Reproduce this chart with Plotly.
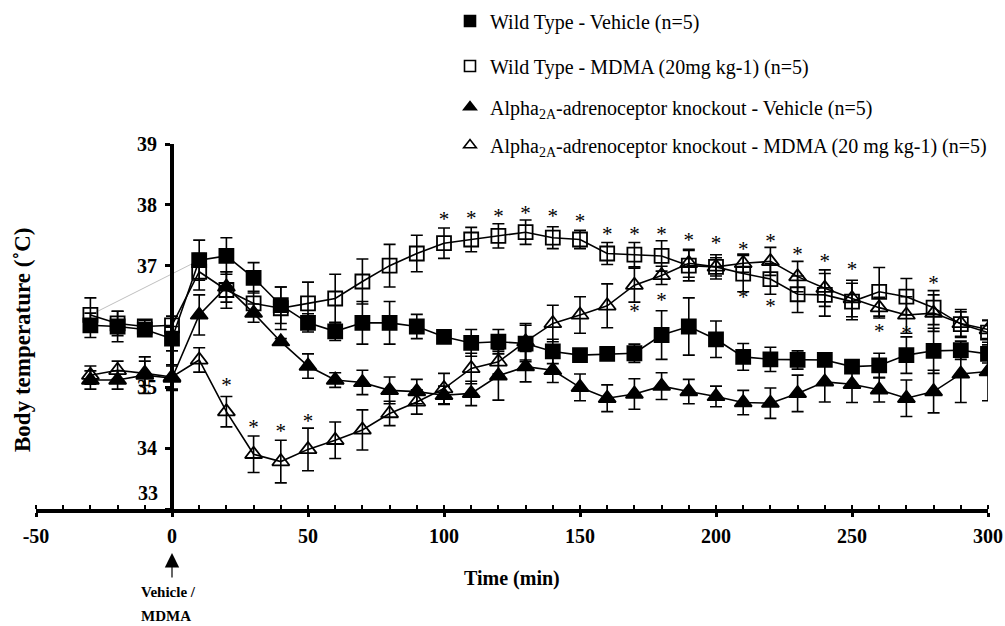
import plotly.graph_objects as go

# ---- data ----
time_min = [-30, -20, -10, 0, 10, 20, 30, 40, 50, 60, 70, 80, 90, 100, 110, 120, 130,
            140, 150, 160, 170, 180, 190, 200, 210, 220, 230, 240, 250, 260, 270, 280, 290, 300]

wt_vehicle = [36.02, 36.00, 35.95, 35.80, 37.09, 37.16, 36.80, 36.35, 36.06, 35.92, 36.06, 36.06,
              36.00, 35.83, 35.73, 35.75, 35.72, 35.59, 35.53, 35.55, 35.56, 35.86, 36.00, 35.79,
              35.50, 35.46, 35.45, 35.45, 35.34, 35.36, 35.53, 35.60, 35.61, 35.55]
wt_vehicle_sem = [0.2, 0.25, 0.1, 0.2, 0.33, 0.3, 0.25, 0.3, 0.15, 0.15, 0.35, 0.35, 0.2, 0.05,
                  0.22, 0.2, 0.3, 0.2, 0.1, 0.05, 0.15, 0.4, 0.47, 0.3, 0.22, 0.2, 0.15, 0.07,
                  0.07, 0.2, 0.3, 0.37, 0.15, 0.15]

wt_mdma = [36.19, 36.05, 36.00, 36.02, 36.90, 36.60, 36.38, 36.30, 36.38, 36.46, 36.74, 37.00,
           37.20, 37.37, 37.43, 37.49, 37.55, 37.46, 37.43, 37.20, 37.18, 37.16, 37.00, 36.98,
           36.87, 36.78, 36.53, 36.52, 36.41, 36.57, 36.49, 36.31, 36.04, 35.90]
wt_mdma_sem = [0.28, 0.2, 0.1, 0.15, 0.3, 0.3, 0.2, 0.35, 0.35, 0.4, 0.37, 0.35, 0.3, 0.25, 0.2,
               0.2, 0.2, 0.18, 0.15, 0.18, 0.2, 0.25, 0.25, 0.2, 0.3, 0.25, 0.3, 0.35, 0.3, 0.4,
               0.3, 0.28, 0.2, 0.2]

ko_vehicle = [35.12, 35.12, 35.20, 35.15, 36.19, 36.65, 36.22, 35.75, 35.35, 35.12, 35.08, 34.95,
              34.93, 34.87, 34.90, 35.19, 35.34, 35.28, 35.00, 34.82, 34.89, 35.02, 34.93, 34.85,
              34.75, 34.74, 34.90, 35.09, 35.05, 34.96, 34.82, 34.93, 35.22, 35.26]
ko_vehicle_sem = [0.15, 0.15, 0.3, 0.2, 0.33, 0.25, 0.15, 0.05, 0.2, 0.12, 0.2, 0.22, 0.2, 0.15,
                  0.2, 0.4, 0.25, 0.2, 0.22, 0.22, 0.25, 0.22, 0.2, 0.17, 0.2, 0.25, 0.3, 0.33,
                  0.3, 0.2, 0.3, 0.35, 0.47, 0.48]

ko_mdma = [35.20, 35.28, 35.23, 35.17, 35.45, 34.60, 33.90, 33.78, 33.98, 34.13, 34.30, 34.57,
           34.76, 34.98, 35.31, 35.42, 35.75, 36.05, 36.19, 36.34, 36.68, 36.84, 37.04, 36.98,
           37.04, 37.07, 36.82, 36.63, 36.46, 36.31, 36.19, 36.22, 36.05, 35.95]
ko_mdma_sem = [0.15, 0.15, 0.2, 0.2, 0.2, 0.25, 0.3, 0.35, 0.35, 0.3, 0.33, 0.2, 0.2, 0.25, 0.25,
               0.2, 0.3, 0.3, 0.3, 0.36, 0.28, 0.15, 0.23, 0.15, 0.15, 0.23, 0.25, 0.3, 0.3, 0.17,
               0.3, 0.3, 0.23, 0.15]

star_time = [20, 30, 40, 50, 100, 110, 120, 130, 140, 150, 160, 170, 180, 190, 200, 210, 220,
             230, 240, 250, 280, 170, 180, 210, 220, 260, 270]
star_temp = [35.01, 34.32, 34.26, 34.42, 37.74, 37.76, 37.78, 37.83, 37.78, 37.71, 37.50, 37.50,
             37.50, 37.40, 37.34, 37.25, 37.37, 37.17, 37.04, 36.92, 36.69, 36.23, 36.40, 36.45,
             36.31, 35.89, 35.87]

legend_names = [
    "Wild Type - Vehicle (n=5)",
    "Wild Type - MDMA (20mg kg-1) (n=5)",
    "Alpha<sub>2A</sub>-adrenoceptor knockout - Vehicle (n=5)",
    "Alpha<sub>2A</sub>-adrenoceptor knockout - MDMA (20 mg kg-1) (n=5)",
]
x_ticks = [-50, 0, 50, 100, 150, 200, 250, 300]
y_ticks = [33, 34, 35, 36, 37, 38, 39]
y_ticktext = ["", "34", "35", "", "37", "38", "39"]

SERIF = "Liberation Serif"
BLACK = "#000000"

fig = go.Figure()

# stray grey connector visible in the original figure
fig.add_trace(go.Scatter(x=[time_min[0], time_min[4]], y=[wt_mdma[0], wt_vehicle[4]],
                         mode="lines", line=dict(color="#c0c0c0", width=1),
                         showlegend=False, hoverinfo="skip"))

series = [
    (wt_mdma, wt_mdma_sem, "square-open", 1),
    (ko_mdma, ko_mdma_sem, "triangle-up-open", 3),
    (ko_vehicle, ko_vehicle_sem, "triangle-up", 2),
    (wt_vehicle, wt_vehicle_sem, "square", 0),
]
for vals, sem, sym, idx in series:
    fig.add_trace(go.Scatter(
        x=time_min, y=vals, mode="lines+markers",
        line=dict(color=BLACK, width=1.6),
        marker=dict(symbol=sym, size=14 if "square" in sym else 15, color=BLACK,
                    line=dict(color=BLACK, width=1.8)),
        error_y=dict(type="data", array=sem, visible=True, color=BLACK, thickness=1.6, width=6),
        name=legend_names[idx], showlegend=False,
    ))

# asterisks (significance)
fig.add_trace(go.Scatter(x=star_time, y=star_temp, mode="text", text=["*"] * len(star_time),
                         textposition="middle center",
                         textfont=dict(family=SERIF, size=21, color=BLACK),
                         showlegend=False, hoverinfo="skip"))

# legend entries (marker only), each in its own legend box for exact placement
legend_syms = ["square", "square-open", "triangle-up", "triangle-up-open"]
legend_ids = ["legend", "legend2", "legend3", "legend4"]
legend_ypx = [21, 66, 107, 145]
for name, sym, lid in zip(legend_names, legend_syms, legend_ids):
    fig.add_trace(go.Scatter(x=[None], y=[None], mode="markers", name=name,
                             marker=dict(symbol=sym, size=11, color=BLACK,
                                         line=dict(color=BLACK, width=1.6)),
                             legend=lid, showlegend=True))

PLOT_L, PLOT_R, PLOT_T, PLOT_B = 36, 988, 144, 509   # window pixels
W, H = 1005, 626
L, T = PLOT_L, PLOT_T
R = W - PLOT_R
B = H - PLOT_B
pw, ph = PLOT_R - PLOT_L, PLOT_B - PLOT_T

def px_to_paper_y(ypx):
    return (PLOT_B - ypx) / ph

def px_to_paper_x(xpx):
    return (xpx - PLOT_L) / pw

legend_layout = {}
for lid, ypx in zip(legend_ids, legend_ypx):
    legend_layout[lid] = dict(
        x=px_to_paper_x(450), xanchor="left", y=px_to_paper_y(ypx), yanchor="middle",
        font=dict(family=SERIF, size=20, color=BLACK), bgcolor="rgba(0,0,0,0)",
        itemsizing="trace", borderwidth=0,
    )

fig.update_layout(
    width=W, height=H,
    margin=dict(l=L, r=R, t=T, b=B, autoexpand=False),
    paper_bgcolor="white", plot_bgcolor="white",
    showlegend=True,
    **legend_layout,
    xaxis=dict(
        range=[-50, 300], tickvals=x_ticks, ticktext=[str(v) for v in x_ticks],
        showline=True, linecolor=BLACK, linewidth=4, showgrid=False, zeroline=False,
        ticks="outside", ticklen=4, tickwidth=3, tickcolor=BLACK,
        minor=dict(dtick=10, ticks="inside", ticklen=4, tickwidth=2, tickcolor=BLACK, showgrid=False),
        tickfont=dict(family=SERIF, size=20, color=BLACK, weight="bold"),
        ticklabelstandoff=2,
    ),
    yaxis=dict(
        range=[33, 39], tickvals=y_ticks, ticktext=y_ticktext,
        anchor="free", position=50 / 350,
        showline=True, linecolor=BLACK, linewidth=4, showgrid=False, zeroline=False,
        ticks="outside", ticklen=5, tickwidth=2.5, tickcolor=BLACK,
        tickfont=dict(family=SERIF, size=20, color=BLACK, weight="bold"),
        ticklabelstandoff=4,
    ),
)

annotations = [
    dict(text="33", x=0, y=33, xref="x", yref="y", xanchor="right", yanchor="middle",
         xshift=-12, yshift=16, showarrow=False,
         font=dict(family=SERIF, size=20, color=BLACK, weight="bold")),
    dict(text="Body temperature (˚C)", x=px_to_paper_x(22), y=px_to_paper_y(340), xref="paper",
         yref="paper", textangle=-90, showarrow=False, xanchor="center", yanchor="middle",
         font=dict(family=SERIF, size=23, color=BLACK, weight="bold")),
    dict(text="Time (min)", x=px_to_paper_x(512), y=px_to_paper_y(578), xref="paper", yref="paper",
         showarrow=False, xanchor="center", yanchor="middle",
         font=dict(family=SERIF, size=20, color=BLACK, weight="bold")),
    dict(text="", x=0, y=px_to_paper_y(553), xref="x", yref="paper", showarrow=True,
         ax=0, ay=26, axref="pixel", ayref="pixel", arrowhead=2, arrowsize=2.4,
         arrowwidth=1.2, arrowcolor=BLACK, standoff=0, startstandoff=0),
    dict(text="Vehicle /", x=0, y=px_to_paper_y(592), xref="x", yref="paper", showarrow=False,
         xanchor="left", yanchor="middle", xshift=-33,
         font=dict(family=SERIF, size=15, color=BLACK, weight="bold")),
    dict(text="MDMA", x=0, y=px_to_paper_y(616), xref="x", yref="paper", showarrow=False,
         xanchor="left", yanchor="middle", xshift=-33,
         font=dict(family=SERIF, size=15, color=BLACK, weight="bold")),
]
fig.update_layout(annotations=annotations)

# remove the browser's default 8px page margin so the 1005x626 figure fills the window exactly
fig.write_html("out.html", config={"displayModeBar": False},
               post_script="document.body.style.margin='0';document.body.style.overflow='hidden';")
